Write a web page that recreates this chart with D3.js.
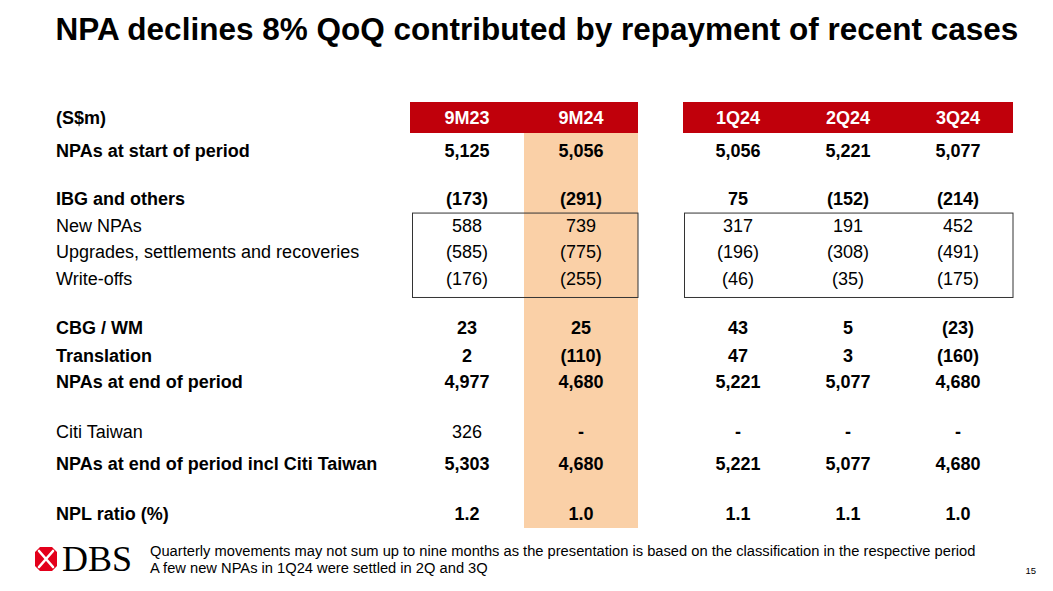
<!DOCTYPE html>
<html>
<head>
<meta charset="utf-8">
<script src="https://cdn.jsdelivr.net/npm/d3@7"></script>
<style>
  html, body { margin: 0; padding: 0; background: #fff; }
  svg { display: block; }
  text { font-family: "Liberation Sans", Arial, Helvetica, sans-serif; }
</style>
</head>
<body>
<svg id="chart" width="1053" height="591"></svg>
<script>
// ---------- data ----------
const title = "NPA declines 8% QoQ contributed by repayment of recent cases";
const unitLabel = "(S$m)";
const periodsNineMonth = ["9M23", "9M24"];
const periodsQuarter = ["1Q24", "2Q24", "3Q24"];
const rowLabels = [
  "NPAs at start of period",
  "IBG and others",
  "New NPAs",
  "Upgrades, settlements and recoveries",
  "Write-offs",
  "CBG / WM",
  "Translation",
  "NPAs at end of period",
  "Citi Taiwan",
  "NPAs at end of period incl Citi Taiwan",
  "NPL ratio (%)"
];
const boldRows = [true, true, false, false, false, true, true, true, false, true, true];
const values9M23 = ["5,125", "(173)", "588", "(585)", "(176)", "23", "2", "4,977", "326", "5,303", "1.2"];
const values9M24 = ["5,056", "(291)", "739", "(775)", "(255)", "25", "(110)", "4,680", "-", "4,680", "1.0"];
const values1Q24 = ["5,056", "75", "317", "(196)", "(46)", "43", "47", "5,221", "-", "5,221", "1.1"];
const values2Q24 = ["5,221", "(152)", "191", "(308)", "(35)", "5", "3", "5,077", "-", "5,077", "1.1"];
const values3Q24 = ["5,077", "(214)", "452", "(491)", "(175)", "(23)", "(160)", "4,680", "-", "4,680", "1.0"];
const highlightPeriod = "9M24";
const footnotes = [
  "Quarterly movements may not sum up to nine months as the presentation is based on the classification in the respective period",
  "A few new NPAs in 1Q24 were settled in 2Q and 3Q"
];
const pageNumber = "15";

// ---------- layout ----------
const columns = {
  "9M23": values9M23, "9M24": values9M24,
  "1Q24": values1Q24, "2Q24": values2Q24, "3Q24": values3Q24
};
const rowSlots = [0, 1.78, 2.78, 3.74, 4.74, 6.56, 7.59, 8.56, 10.41, 11.59, 13.44];
const RED = "#C0000B", PEACH = "#FAD0A7";
const FS = 18;

const svg = d3.select("#chart");
const xNine = d3.scaleBand().domain(periodsNineMonth).range([410, 638]);
const xQuarter = d3.scaleBand().domain(periodsQuarter).range([683, 1013]);
const xCol = p => (periodsNineMonth.includes(p) ? xNine : xQuarter);
const y = d3.scaleLinear().domain([0, 1]).range([151, 178]);
const rowY = i => y(rowSlots[i]);

// title
svg.append("text")
  .attr("x", 537).attr("y", 40)
  .attr("text-anchor", "middle")
  .attr("font-size", 31.5).attr("font-weight", "bold")
  .attr("fill", "#000")
  .text(title);

// highlight column
svg.append("rect")
  .attr("x", xNine(highlightPeriod)).attr("width", xNine.bandwidth())
  .attr("y", 133).attr("height", 528 - 133)
  .attr("fill", PEACH);

// header bars
[[xNine, periodsNineMonth], [xQuarter, periodsQuarter]].forEach(([sc, dom]) => {
  svg.append("rect")
    .attr("x", sc.range()[0]).attr("width", sc.range()[1] - sc.range()[0])
    .attr("y", 102).attr("height", 31)
    .attr("fill", RED);
  svg.selectAll(null).data(dom).enter().append("text")
    .attr("x", d => sc(d) + sc.bandwidth() / 2)
    .attr("y", 118).attr("dy", "0.35em")
    .attr("text-anchor", "middle")
    .attr("font-size", FS).attr("font-weight", "bold")
    .attr("fill", "#fff")
    .text(d => d);
});

// unit label
svg.append("text")
  .attr("x", 56).attr("y", 118).attr("dy", "0.35em")
  .attr("font-size", FS).attr("font-weight", "bold")
  .text(unitLabel);

// boxes around detail rows
const boxTop = (rowY(1) + rowY(2)) / 2;
const boxBottom = rowY(4) + 18;
[[xNine, 412], [xQuarter, 684]].forEach(([sc, x0]) => {
  svg.append("rect")
    .attr("x", x0 + 0.5).attr("y", boxTop + 0.5)
    .attr("width", sc.range()[1] - x0 - 0.5)
    .attr("height", boxBottom - boxTop)
    .attr("fill", "none").attr("stroke", "#333").attr("stroke-width", 1);
});

// row labels
svg.selectAll(null).data(rowLabels).enter().append("text")
  .attr("x", 56).attr("y", (d, i) => rowY(i)).attr("dy", "0.35em")
  .attr("font-size", FS)
  .attr("font-weight", (d, i) => boldRows[i] ? "bold" : "normal")
  .attr("fill", "#000")
  .text(d => d);

// cells
Object.keys(columns).forEach(p => {
  const sc = xCol(p);
  svg.selectAll(null).data(columns[p]).enter().append("text")
    .attr("x", sc(p) + sc.bandwidth() / 2)
    .attr("y", (d, i) => rowY(i)).attr("dy", "0.35em")
    .attr("text-anchor", "middle")
    .attr("font-size", FS)
    .attr("font-weight", (d, i) => (boldRows[i] || d === "-") ? "bold" : "normal")
    .attr("fill", "#000")
    .text(d => d);
});

// footnotes
svg.selectAll(null).data(footnotes).enter().append("text")
  .attr("x", 150).attr("y", (d, i) => 551 + i * 17).attr("dy", "0.35em")
  .attr("font-size", 14.7).attr("fill", "#000")
  .text(d => d);

svg.append("text")
  .attr("x", 1036).attr("y", 571).attr("dy", "0.35em")
  .attr("text-anchor", "end")
  .attr("font-size", 9.5).attr("fill", "#000")
  .text(pageNumber);

// DBS logo
const logo = svg.append("g").attr("transform", "translate(35,547)");
logo.append("rect").attr("width", 22).attr("height", 24).attr("rx", 2).attr("fill", "#E3001B");
logo.append("path")
  .attr("d", "M4,4 L18,20 M18,4 L4,20")
  .attr("stroke", "#fff").attr("stroke-width", 2.6).attr("stroke-linecap", "round");
logo.append("path")
  .attr("d", "M0,0 L5,0 L0,5 Z M22,0 L17,0 L22,5 Z M0,24 L5,24 L0,19 Z M22,24 L17,24 L22,19 Z")
  .attr("fill", "#fff");
svg.append("text")
  .attr("x", 62).attr("y", 571)
  .style("font-family", "'Liberation Serif', 'Times New Roman', serif")
  .attr("font-size", 36).attr("fill", "#000")
  .text("DBS");
</script>
</body>
</html>
